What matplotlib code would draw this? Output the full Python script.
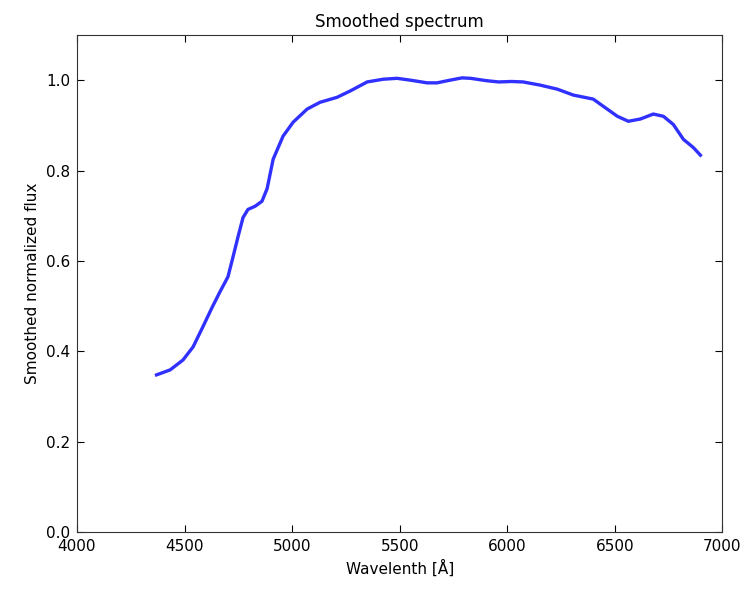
import matplotlib
matplotlib.use("Agg")
import matplotlib.pyplot as plt

wavelength = [4370, 4433, 4493, 4540, 4586, 4628, 4665, 4702, 4726, 4749, 4772,
              4795, 4828, 4860, 4884, 4912, 4958, 5005, 5070, 5130, 5209, 5270,
              5349, 5423, 5488, 5549, 5628, 5674, 5735, 5790, 5830, 5900, 5960,
              6020, 6074, 6153, 6233, 6307, 6400, 6447, 6512, 6563, 6619, 6679,
              6726, 6772, 6819, 6865, 6898]
flux = [0.348, 0.359, 0.381, 0.410, 0.455, 0.497, 0.532, 0.565, 0.610, 0.654, 0.696,
        0.714, 0.721, 0.732, 0.760, 0.825, 0.876, 0.907, 0.936, 0.951, 0.962, 0.976,
        0.996, 1.002, 1.004, 1.000, 0.994, 0.994, 1.000, 1.005, 1.004, 0.999, 0.996,
        0.997, 0.996, 0.989, 0.980, 0.967, 0.958, 0.942, 0.920, 0.909, 0.914, 0.925,
        0.920, 0.902, 0.869, 0.851, 0.834]

fig = plt.figure(figsize=(7.47, 5.92), dpi=100)
ax = fig.add_axes([0.103, 0.101, 0.864, 0.840])
ax.plot(wavelength, flux, color="#3030ff", linewidth=2.4, solid_joinstyle="round")

ax.set_xlim(4000, 7000)
ax.set_ylim(0.0, 1.1)
ax.set_xticks([4000, 4500, 5000, 5500, 6000, 6500, 7000])
ax.set_yticks([0.0, 0.2, 0.4, 0.6, 0.8, 1.0])
ax.yaxis.set_major_formatter(matplotlib.ticker.FormatStrFormatter("%.1f"))
ax.tick_params(direction="in", top=True, right=True, labelsize=11, length=5, pad=5)
for s in ax.spines.values():
    s.set_color("#333333")

ax.set_title("Smoothed spectrum", fontsize=12)
ax.set_xlabel("Wavelenth [Å]", fontsize=11)
ax.set_ylabel("Smoothed normalized flux", fontsize=11)

fig.savefig("out.png", dpi=100, facecolor="white")
